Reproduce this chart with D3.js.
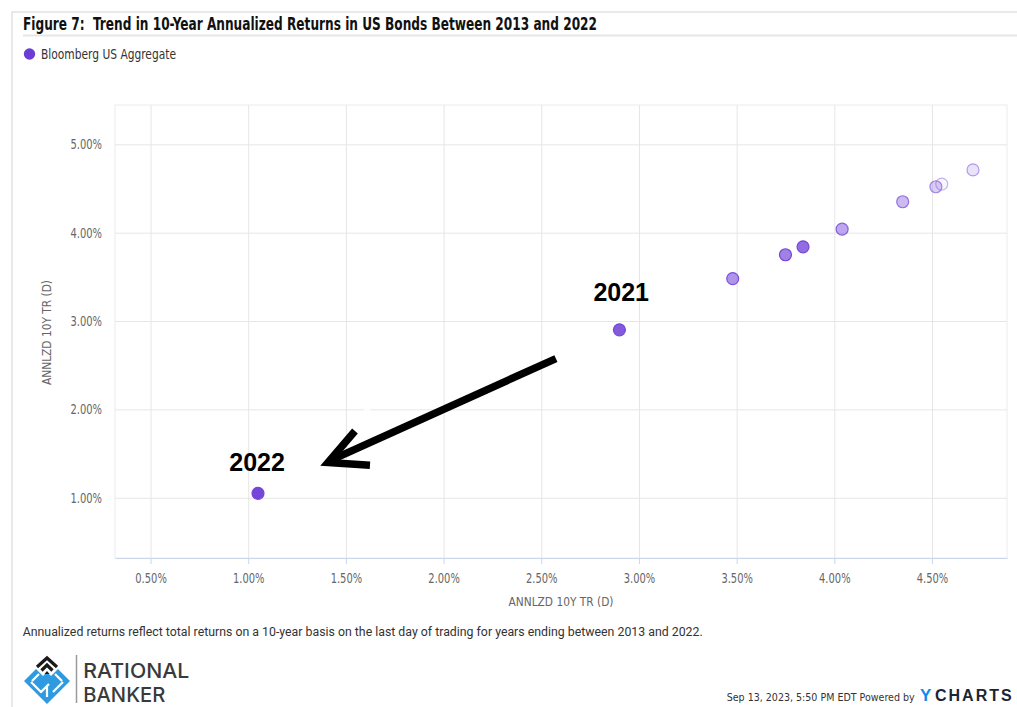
<!DOCTYPE html>
<html>
<head>
<meta charset="utf-8">
<script src="https://cdn.jsdelivr.net/npm/d3@7"></script>
<style>
  body { margin: 0; background: #fff; }
</style>
</head>
<body>
<div id="chart"></div>
<script>
const canvas_w  =   1017;
const canvas_h  =   707;

// data (same measure on both axes)
const years             = [ 2013, 2014, 2015, 2016, 2017, 2018, 2019, 2020, 2021, 2022 ];
const annualizedReturns = [ 4.55, 4.71, 4.52, 4.35, 4.04, 3.48, 3.75, 3.84, 2.90, 1.05 ];
const labelledYears     = [ 2021, 2022 ];
const xTicks            = [ 0.5, 1, 1.5, 2, 2.5, 3, 3.5, 4, 4.5 ];
const yTicks            = [ 1, 2, 3, 4, 5 ];
const xDomain           = [ 0.318, 4.884 ];
const yDomain           = [ 0.318, 5.445 ];
const arrowRange        = [ 2.575, 1.398 ];   // arrow drawn along the diagonal, from -> tip

const narrow  = '"Liberation Sans Narrow", "DejaVu Sans Condensed", sans-serif';
const purple  = '#7446d9';
const plot    = { left: 115, top: 105, right: 1007, bottom: 558 };

let x = d3.scaleLinear()
          .domain( xDomain )
          .range( [ plot.left, plot.right ] );

let y = d3.scaleLinear()
          .domain( yDomain )
          .range( [ plot.bottom, plot.top ] );

// older years fade out
let fade = d3.scaleLinear()
             .domain( [ d3.min( years ), d3.max( years ) ] )
             .range( [ 0.05, 1 ] );

let svg = d3.select( '#chart' )
            .append( 'svg' )
            .attr( 'width', canvas_w )
            .attr( 'height', canvas_h );

// shrink a text's font size until its natural width is the wanted one
function fitWidth( sel, width ) {
    let len = sel.node().getComputedTextLength();
    let fs  = parseFloat( sel.attr( 'font-size' ) );
    if ( len > 0 ) sel.attr( 'font-size', ( fs * width / len ).toFixed( 2 ) );
    return sel;
}

// outer frame + title rule
svg.append( 'path' )
   .attr( 'd', 'M12,707 V12 H1017' )
   .attr( 'fill', 'none' )
   .attr( 'stroke', '#e2e2e2' )
   .attr( 'stroke-width', 1.5 );

svg.append( 'line' )
   .attr( 'x1', 23 ).attr( 'x2', 1017 )
   .attr( 'y1', 35.5 ).attr( 'y2', 35.5 )
   .attr( 'stroke', '#e6e6e6' )
   .attr( 'stroke-width', 2 );

svg.append( 'text' )
   .attr( 'x', 23 ).attr( 'y', 29.5 )
   .attr( 'font-family', narrow )
   .attr( 'font-weight', 'bold' )
   .attr( 'font-size', 18 )
   .attr( 'fill', '#111' )
   .attr( 'textLength', 574 )
   .attr( 'lengthAdjust', 'spacingAndGlyphs' )
   .text( 'Figure 7:\u00a0 Trend in 10-Year Annualized Returns in US Bonds Between 2013 and 2022' );

// legend
svg.append( 'circle' )
   .attr( 'cx', 29.5 ).attr( 'cy', 54 ).attr( 'r', 5.7 )
   .attr( 'fill', '#6c3dd4' );

svg.append( 'text' )
   .attr( 'x', 41 ).attr( 'y', 58.5 )
   .attr( 'font-family', narrow )
   .attr( 'font-size', 13.5 )
   .attr( 'fill', '#333' )
   .attr( 'textLength', 135 )
   .attr( 'lengthAdjust', 'spacingAndGlyphs' )
   .text( 'Bloomberg US Aggregate' );

// plot frame
svg.append( 'rect' )
   .attr( 'x', plot.left ).attr( 'y', plot.top )
   .attr( 'width', plot.right - plot.left )
   .attr( 'height', plot.bottom - plot.top )
   .attr( 'fill', 'none' )
   .attr( 'stroke', '#ececf2' );

function styleTicks( g ) {
    g.selectAll( '.tick text' )
     .attr( 'fill', '#666' )
     .attr( 'font-family', narrow )
     .attr( 'font-size', 13.5 )
     .attr( 'textLength', 31.5 )
     .attr( 'lengthAdjust', 'spacingAndGlyphs' );
}

// y grid + labels
svg.append( 'g' )
   .attr( 'transform', `translate(${ plot.left },0)` )
   .call( d3.axisLeft( y )
            .tickValues( yTicks )
            .tickSize( -( plot.right - plot.left ) )
            .tickPadding( 13 )
            .tickFormat( d => d.toFixed( 2 ) + '%' ) )
   .call( g => g.select( '.domain' ).remove() )
   .call( g => g.selectAll( '.tick line' ).attr( 'stroke', '#e6e6e6' ) )
   .call( styleTicks );

// x grid + labels
svg.append( 'g' )
   .attr( 'transform', `translate(0,${ plot.bottom })` )
   .call( d3.axisBottom( x )
            .tickValues( xTicks )
            .tickSize( -( plot.bottom - plot.top ) )
            .tickPadding( 15.5 )
            .tickFormat( d => d.toFixed( 2 ) + '%' ) )
   .call( g => g.select( '.domain' ).remove() )
   .call( g => g.selectAll( '.tick line' ).attr( 'stroke', '#e6e6e6' ) )
   .call( styleTicks );

// x axis line and tick marks
svg.append( 'g' )
   .attr( 'transform', `translate(0,${ plot.bottom })` )
   .call( d3.axisBottom( x )
            .tickValues( xTicks )
            .tickSizeInner( 6 )
            .tickSizeOuter( 0 )
            .tickFormat( '' ) )
   .call( g => g.selectAll( 'path, line' ).attr( 'stroke', '#ccd6eb' ) );

// axis titles
svg.append( 'text' )
   .attr( 'x', ( plot.left + plot.right ) / 2 ).attr( 'y', 606 )
   .attr( 'text-anchor', 'middle' )
   .attr( 'font-family', narrow )
   .attr( 'font-size', 13 )
   .attr( 'fill', '#666' )
   .attr( 'textLength', 105 )
   .attr( 'lengthAdjust', 'spacingAndGlyphs' )
   .text( 'ANNLZD 10Y TR (D)' );

svg.append( 'text' )
   .attr( 'transform', 'translate(51,332.5) rotate(-90)' )
   .attr( 'text-anchor', 'middle' )
   .attr( 'font-family', narrow )
   .attr( 'font-size', 13 )
   .attr( 'fill', '#666' )
   .attr( 'textLength', 105 )
   .attr( 'lengthAdjust', 'spacingAndGlyphs' )
   .text( 'ANNLZD 10Y TR (D)' );

// points, newest first so the faded old years sit on top
let points = years.map( ( yr, i ) => ( { year: yr, value: annualizedReturns[ i ] } ) )
                  .sort( ( a, b ) => b.year - a.year );

svg.append( 'g' )
   .selectAll( 'circle' )
   .data( points )
   .enter()
   .append( 'circle' )
   .attr( 'cx', d => x( d.value ) )
   .attr( 'cy', d => y( d.value ) )
   .attr( 'r', 6 )
   .attr( 'fill', purple )
   .attr( 'fill-opacity', d => fade( d.year ) )
   .attr( 'stroke', purple )
   .attr( 'stroke-opacity', d => Math.min( 1, fade( d.year ) + 0.35 ) )
   .attr( 'stroke-width', 1.2 );

// year call-outs
const labelOffset = { 2021: [ -26, -28.5 ], 2022: [ -28.7, -22.3 ] };

svg.append( 'g' )
   .selectAll( 'text' )
   .data( points.filter( d => labelledYears.includes( d.year ) ) )
   .enter()
   .append( 'text' )
   .attr( 'x', d => x( d.value ) + labelOffset[ d.year ][ 0 ] )
   .attr( 'y', d => y( d.value ) + labelOffset[ d.year ][ 1 ] )
   .attr( 'font-family', '"Liberation Sans", Arial, sans-serif' )
   .attr( 'font-weight', 'bold' )
   .attr( 'font-size', 25 )
   .attr( 'fill', '#000' )
   .text( d => d.year );

// the hand drawn arrow
let from = [ x( arrowRange[ 0 ] ), y( arrowRange[ 0 ] ) ];
let tip  = [ x( arrowRange[ 1 ] ), y( arrowRange[ 1 ] ) ];

svg.append( 'path' )
   .attr( 'd', `M${ tip[0] + 30.7 },${ tip[1] - 40 } L${ tip[0] + 52.3 },${ tip[1] - 66.6 }
                M${ tip[0] + 50.7 },${ tip[1] + 3.4 } L${ tip[0] + 87.3 },${ tip[1] + 6.7 }` )
   .attr( 'stroke', '#fff' )
   .attr( 'stroke-opacity', 0.85 )
   .attr( 'stroke-width', 5 )
   .attr( 'stroke-linecap', 'round' );

svg.append( 'line' )
   .attr( 'x1', from[0] ).attr( 'y1', from[1] )
   .attr( 'x2', tip[0] + 4 ).attr( 'y2', tip[1] - 2 )
   .attr( 'stroke', '#000' )
   .attr( 'stroke-width', 7.5 );

svg.append( 'path' )
   .attr( 'd', `M${ tip[0] + 29 },${ tip[1] - 31.6 } L${ tip[0] + 2 },${ tip[1] } L${ tip[0] + 44 },${ tip[1] + 2.7 }` )
   .attr( 'fill', 'none' )
   .attr( 'stroke', '#000' )
   .attr( 'stroke-width', 7.5 )
   .attr( 'stroke-linejoin', 'miter' );

// note under the chart
svg.append( 'text' )
   .attr( 'x', 22.7 ).attr( 'y', 635.7 )
   .attr( 'font-family', 'Roboto, sans-serif' )
   .attr( 'font-size', 12.5 )
   .attr( 'fill', '#333' )
   .attr( 'textLength', 680 )
   .attr( 'lengthAdjust', 'spacingAndGlyphs' )
   .text( 'Annualized returns reflect total returns on a 10-year basis on the last day of trading for years ending between 2013 and 2022.' );

// Rational Banker logo
let logo = svg.append( 'g' ).attr( 'transform', 'translate(47,681)' );

logo.append( 'path' )
    .attr( 'd', 'M-23,0 L-11,-12 L-4,-5 L0,-9 L4,-5 L11,-12 L23,0 L0,23 Z' )
    .attr( 'fill', '#2e9be0' );

logo.append( 'path' )
    .attr( 'd', 'M-15,0 L-8,-7 M-16,1 L-6,11 L2,3 M15,0 L8,-7 M16,1 L6,11 M0,4 L0,16' )
    .attr( 'fill', 'none' )
    .attr( 'stroke', '#fff' )
    .attr( 'stroke-width', 2.2 );

logo.append( 'path' )
    .attr( 'd', 'M-10,-14 L0,-23 L10,-14 M-5.5,-10.5 L0,-16 L5.5,-10.5' )
    .attr( 'fill', 'none' )
    .attr( 'stroke', '#1a1a1a' )
    .attr( 'stroke-width', 3.2 );

logo.append( 'path' )
    .attr( 'd', 'M-2.5,-7 L0,-10 L2.5,-7 Z' )
    .attr( 'fill', '#1a1a1a' );

svg.append( 'line' )
   .attr( 'x1', 76.5 ).attr( 'x2', 76.5 )
   .attr( 'y1', 655 ).attr( 'y2', 703 )
   .attr( 'stroke', '#9a9a9a' )
   .attr( 'stroke-width', 1.5 );

svg.append( 'text' )
   .attr( 'x', 83.3 ).attr( 'y', 678.3 )
   .attr( 'font-family', 'Inter, "Open Sans", sans-serif' )
   .attr( 'font-weight', 500 )
   .attr( 'font-size', 20.5 )
   .attr( 'fill', '#3a3a3a' )
   .attr( 'textLength', 106 )
   .attr( 'lengthAdjust', 'spacingAndGlyphs' )
   .text( 'RATIONAL' );

svg.append( 'text' )
   .attr( 'x', 83.3 ).attr( 'y', 701.7 )
   .attr( 'font-family', 'Inter, "Open Sans", sans-serif' )
   .attr( 'font-weight', 500 )
   .attr( 'font-size', 20.5 )
   .attr( 'fill', '#3a3a3a' )
   .attr( 'textLength', 82 )
   .attr( 'lengthAdjust', 'spacingAndGlyphs' )
   .text( 'BANKER' );

// footer stamp
svg.append( 'text' )
   .attr( 'x', 726.7 ).attr( 'y', 700.5 )
   .attr( 'font-family', narrow )
   .attr( 'font-size', 12.5 )
   .attr( 'fill', '#333' )
   .text( 'Sep 13, 2023, 5:50 PM EDT Powered by' )
   .call( fitWidth, 188 );

svg.append( 'text' )
   .attr( 'x', 920 ).attr( 'y', 701 )
   .attr( 'font-family', '"Liberation Sans", Arial, sans-serif' )
   .attr( 'font-weight', 'bold' )
   .attr( 'font-size', 17 )
   .attr( 'fill', '#1689e8' )
   .text( 'Y' );

svg.append( 'text' )
   .attr( 'x', 935 ).attr( 'y', 701 )
   .attr( 'font-family', '"Liberation Sans", Arial, sans-serif' )
   .attr( 'font-weight', 'bold' )
   .attr( 'font-size', 16 )
   .attr( 'letter-spacing', 2 )
   .attr( 'fill', '#1b2537' )
   .text( 'CHARTS' );
</script>
</body>
</html>
